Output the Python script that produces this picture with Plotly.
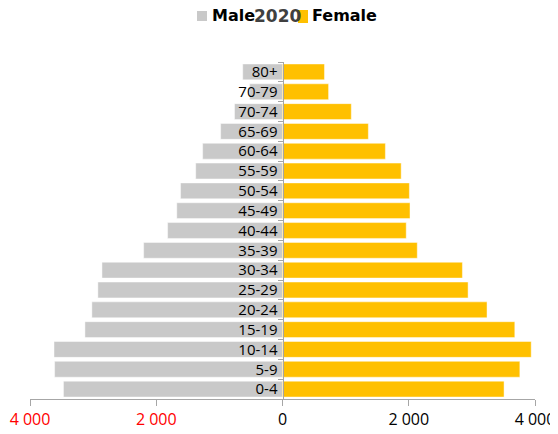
import plotly.graph_objects as go

# Age groups, bottom to top
ages = ["0-4", "5-9", "10-14", "15-19", "20-24", "25-29", "30-34", "35-39",
        "40-44", "45-49", "50-54", "55-59", "60-64", "65-69", "70-74", "70-79", "80+"]
male = [3470, 3610, 3620, 3130, 3020, 2925, 2860, 2200,
        1820, 1675, 1615, 1375, 1265, 980, 760, 520, 630]
female = [3510, 3760, 3940, 3680, 3240, 2940, 2850, 2135,
          1960, 2020, 2010, 1880, 1630, 1360, 1090, 730, 665]

tick_vals = [-4000, -2000, 0, 2000, 4000]
tick_text = ['<span style="color:#ff0000">4 000</span>',
             '<span style="color:#ff0000">2 000</span>',
             '0', '2 000', '4 000']

title_text = "2020"
series_names = ["Male", "Female"]
GREY = "#c9c9c9"
GOLD = "#ffc000"
FONT = "DejaVu Sans"
TICK_FONT = "Open Sans"

fig = go.Figure()
fig.add_trace(go.Bar(y=ages, x=[-v for v in male], orientation="h", name=series_names[0],
                     marker=dict(color=GREY, line=dict(width=1, color="rgba(255,255,255,0.45)")),
                     showlegend=False))
fig.add_trace(go.Bar(y=ages, x=female, orientation="h", name=series_names[1],
                     marker=dict(color=GOLD, line=dict(width=1, color="rgba(255,255,255,0.45)")),
                     showlegend=False))

# page has an 8px body margin; figure is offset by (8, 8)
OFF = 8
PL, PR, PT, PB = 30, 535, 62, 399   # plot area in page pixels
W, H = 558 - OFF, 434 - OFF
L, T = PL - OFF, PT - OFF
R, B = W - (PR - OFF), H - (PB - OFF)
pw, ph = PR - PL, PB - PT

def px(x):
    return (x - PL) / pw

def py(y):
    return 1 + (PT - y) / ph

fig.update_layout(
    width=W, height=H,
    margin=dict(l=L, r=R, t=T, b=B, autoexpand=False),
    paper_bgcolor="white", plot_bgcolor="white",
    barmode="overlay", bargap=0.2,
    font=dict(family=FONT, color="#000000"),
    xaxis=dict(range=[-4000, 4000], domain=[0, 1], tickvals=tick_vals, ticktext=tick_text,
               automargin=False,
               showgrid=False, zeroline=False, showline=True, linecolor="#a6a6a6", linewidth=1,
               ticks="outside", ticklen=6, tickcolor="#a6a6a6",
               tickfont=dict(family=TICK_FONT, size=16, color="#000000")),
    yaxis=dict(type="category", anchor="free", position=0.5, showgrid=False, zeroline=False,
               automargin=False,
               showline=True, linecolor="#a6a6a6", linewidth=1, ticks="outside", ticklen=5,
               ticklabelstandoff=2,
               tickcolor="#a6a6a6", tickson="boundaries",
               tickfont=dict(family=TICK_FONT, size=15, color="#000000"),
               range=[-0.5, len(ages) - 0.5]),
)

# Legend drawn manually with title in the middle
fig.add_annotation(x=px(211), y=py(16), xref="paper", yref="paper", text="<b>" + series_names[0] + "</b>",
                   showarrow=False, xanchor="left", yanchor="middle", borderpad=0,
                   font=dict(size=16, color="#000000"))
fig.add_annotation(x=px(253), y=py(16), xref="paper", yref="paper", text="<b>" + title_text + "</b>",
                   showarrow=False, xanchor="left", yanchor="middle", borderpad=0,
                   font=dict(size=17, color="#404040"))
fig.add_annotation(x=px(311), y=py(16), xref="paper", yref="paper", text="<b>" + series_names[1] + "</b>",
                   showarrow=False, xanchor="left", yanchor="middle", borderpad=0,
                   font=dict(size=16, color="#000000"))
fig.add_shape(type="rect", xref="paper", yref="paper", x0=px(197), x1=px(207), y0=py(21), y1=py(11),
              fillcolor=GREY, line=dict(width=0), layer="above")
fig.add_shape(type="rect", xref="paper", yref="paper", x0=px(298), x1=px(308), y0=py(23), y1=py(10),
              fillcolor=GOLD, line=dict(width=0), layer="above")

fig.write_html("out.html")
